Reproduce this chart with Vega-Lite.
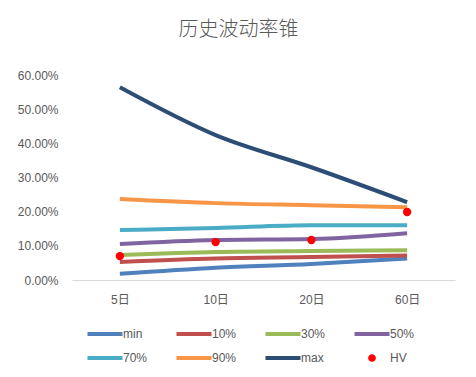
{
  "$schema": "https://vega.github.io/schema/vega-lite/v6.json",
  "autosize": {"type": "none"},
  "padding": {"left": 72, "top": 75, "right": 21, "bottom": 97},
  "width": 383,
  "height": 205,
  "background": "white",
  "title": {
    "text": "历史波动率锥",
    "font": "Noto Sans CJK SC",
    "fontSize": 20,
    "fontWeight": 300,
    "color": "#595959",
    "anchor": "middle",
    "dx": -25,
    "offset": 29
  },
  "config": {
    "view": {"stroke": null},
    "font": "Liberation Sans, Noto Sans CJK SC"
  },
  "data": {
    "values": [
      {"period": "5日", "series": "min", "value": 0.018},
      {"period": "10日", "series": "min", "value": 0.036},
      {"period": "20日", "series": "min", "value": 0.047},
      {"period": "60日", "series": "min", "value": 0.063},
      {"period": "5日", "series": "10%", "value": 0.053},
      {"period": "10日", "series": "10%", "value": 0.063},
      {"period": "20日", "series": "10%", "value": 0.067},
      {"period": "60日", "series": "10%", "value": 0.072},
      {"period": "5日", "series": "30%", "value": 0.073},
      {"period": "10日", "series": "30%", "value": 0.082},
      {"period": "20日", "series": "30%", "value": 0.085},
      {"period": "60日", "series": "30%", "value": 0.087},
      {"period": "5日", "series": "50%", "value": 0.105},
      {"period": "10日", "series": "50%", "value": 0.117},
      {"period": "20日", "series": "50%", "value": 0.120},
      {"period": "60日", "series": "50%", "value": 0.137},
      {"period": "5日", "series": "70%", "value": 0.146},
      {"period": "10日", "series": "70%", "value": 0.152},
      {"period": "20日", "series": "70%", "value": 0.160},
      {"period": "60日", "series": "70%", "value": 0.160},
      {"period": "5日", "series": "90%", "value": 0.237},
      {"period": "10日", "series": "90%", "value": 0.225},
      {"period": "20日", "series": "90%", "value": 0.219},
      {"period": "60日", "series": "90%", "value": 0.213},
      {"period": "5日", "series": "max", "value": 0.564},
      {"period": "10日", "series": "max", "value": 0.424},
      {"period": "20日", "series": "max", "value": 0.330},
      {"period": "60日", "series": "max", "value": 0.228},
      {"period": "5日", "series": "HV", "value": 0.070},
      {"period": "10日", "series": "HV", "value": 0.111},
      {"period": "20日", "series": "HV", "value": 0.117},
      {"period": "60日", "series": "HV", "value": 0.199}
    ]
  },
  "encoding": {
    "x": {
      "field": "period",
      "type": "ordinal",
      "sort": ["5日", "10日", "20日", "60日"],
      "scale": {"type": "point", "padding": 0.5},
      "axis": {
        "title": null,
        "labelAngle": 0,
        "ticks": false,
        "domainColor": "#D9D9D9",
        "domainWidth": 1,
        "labelColor": "#595959",
        "labelFontSize": 12,
        "labelPadding": 14,
        "labelFont": "Liberation Sans, Noto Sans CJK SC"
      }
    },
    "y": {
      "field": "value",
      "type": "quantitative",
      "scale": {"domain": [0, 0.6], "nice": false},
      "axis": {
        "title": null,
        "format": ".2%",
        "values": [0, 0.1, 0.2, 0.3, 0.4, 0.5, 0.6],
        "grid": false,
        "domain": false,
        "ticks": false,
        "labelColor": "#595959",
        "labelFontSize": 12,
        "labelPadding": 14,
        "labelFont": "Liberation Sans"
      }
    },
    "color": {
      "field": "series",
      "type": "nominal",
      "scale": {
        "domain": ["min", "10%", "30%", "50%", "70%", "90%", "max", "HV"],
        "range": ["#4F81BD", "#C0504D", "#9BBB59", "#8064A2", "#4BACC6", "#F79646", "#2C4D75", "#FF0000"]
      },
      "legend": {
        "title": null,
        "orient": "none",
        "legendX": 27,
        "legendY": 253,
        "direction": "horizontal",
        "columns": 4,
        "gridAlign": "all",
        "columnPadding": 20,
        "rowPadding": 8,
        "symbolSize": 1225,
        "symbolType": "stroke",
        "symbolStrokeWidth": 4,
        "labelOffset": 12,
        "labelColor": "#595959",
        "labelFontSize": 12,
        "labelFont": "Liberation Sans",
        "encode": {
          "symbols": {
            "update": {
              "shape": {"signal": "datum.value === 'HV' ? 'M -0.22,0 A 0.22,0.22 0 1,0 0.22,0 A 0.22,0.22 0 1,0 -0.22,0 Z' : 'stroke'"},
              "fill": {"signal": "datum.value === 'HV' ? '#FF0000' : 'transparent'"},
              "strokeWidth": {"signal": "datum.value === 'HV' ? 0 : 4"}
            }
          }
        }
      }
    }
  },
  "layer": [
    {
      "transform": [{"filter": "datum.series !== 'HV'"}],
      "mark": {"type": "line", "strokeWidth": 4, "interpolate": "monotone"}
    },
    {
      "transform": [{"filter": "datum.series === 'HV'"}],
      "mark": {"type": "point", "filled": true, "size": 70, "opacity": 1}
    }
  ]
}
